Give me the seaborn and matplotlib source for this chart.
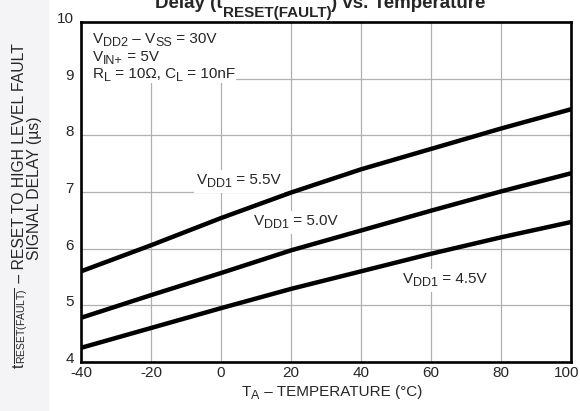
import pandas as pd
import matplotlib.pyplot as plt
import matplotlib.patches as mpatches
import matplotlib.transforms as mtransforms
import seaborn as sns

# Data
temperature = [-40, -20, 0, 20, 40, 60, 80, 100]
delay_55 = [5.60, 6.06, 6.54, 6.99, 7.40, 7.76, 8.12, 8.46]
delay_50 = [4.78, 5.18, 5.57, 5.97, 6.32, 6.67, 7.01, 7.33]
delay_45 = [4.25, 4.60, 4.95, 5.29, 5.60, 5.91, 6.20, 6.47]
series_names = ["5.5V", "5.0V", "4.5V"]
x_ticks = [-40, -20, 0, 20, 40, 60, 80, 100]
y_ticks = [4, 5, 6, 7, 8, 9, 10]

rows = []
for name, vals in zip(series_names, [delay_55, delay_50, delay_45]):
    for t, v in zip(temperature, vals):
        rows.append({"temp": t, "delay": v, "vdd1": name})
df = pd.DataFrame(rows)

sns.set_style("white")
plt.rcParams['font.family'] = ['Liberation Sans', 'DejaVu Sans']
plt.rcParams['mathtext.fontset'] = 'custom'
plt.rcParams['mathtext.rm'] = 'Liberation Sans'
plt.rcParams['mathtext.it'] = 'Liberation Sans:italic'
plt.rcParams['mathtext.bf'] = 'Liberation Sans:bold'
plt.rcParams['axes.unicode_minus'] = False

W, H = 580, 411
fig = plt.figure(figsize=(W / 100, H / 100), dpi=100)
renderer = fig.canvas.get_renderer()


def px(x, y):
    # pixel position measured from top-left -> figure fraction
    return x / W, 1 - y / H


# light grey strip at the left edge
fig.patches.append(mpatches.Rectangle((0, 0), 48 / W, 1, transform=fig.transFigure,
                                      color='#f4f4f6', zorder=-5))
ax = fig.add_axes([81 / W, 1 - 362 / H, 490 / W, 340 / H])

sns.lineplot(data=df, x="temp", y="delay", hue="vdd1", palette=["black"] * 3,
             linewidth=3.2, legend=False, ax=ax, zorder=3)

ax.set_xlim(-40, 100)
ax.set_ylim(4, 10)
ax.set_xticks(x_ticks)
ax.set_yticks(y_ticks)
ax.grid(True, color='#b0b0b0', linewidth=0.9)
ax.tick_params(axis='both', labelsize=11, length=0)
ax.tick_params(axis='x', pad=3)
ax.tick_params(axis='y', pad=5)
for sp in ax.spines.values():
    sp.set_linewidth(1.9)
    sp.set_color('black')
ax.set_xlabel("")
ax.set_ylabel("")
up = mtransforms.ScaledTranslation(0, 4.5 / 100, fig.dpi_scale_trans)
for lab in ax.get_yticklabels():
    lab.set_transform(lab.get_transform() + up)
left = mtransforms.ScaledTranslation(-4 / 100, 0, fig.dpi_scale_trans)
last = ax.get_xticklabels()[-1]
last.set_transform(last.get_transform() + left)


def rich(parts, x, y, transform, size, sub_size, drop, ha='left', rotation=0,
         weight='normal', zorder=5):
    # chain of text pieces; sub pieces are smaller and dropped below the baseline
    texts, widths = [], []
    for s, sub in parts:
        t = fig.text(0, 0, s, fontsize=sub_size if sub else size, rotation=rotation,
                     rotation_mode='anchor', ha='left', va='baseline',
                     fontweight=weight, zorder=zorder)
        ext = t.get_window_extent(renderer)
        texts.append((t, sub))
        widths.append((ext.height if rotation else ext.width) * 72 / fig.dpi)
    total = sum(widths)
    pos = {'left': 0, 'center': -total / 2, 'right': -total}[ha]
    for (t, sub), w in zip(texts, widths):
        d = -drop if sub else 0
        if rotation == 90:
            dx, dy = -d, pos
        else:
            dx, dy = pos, d
        t.set_transform(mtransforms.offset_copy(transform, fig=fig, x=dx, y=dy, units='points'))
        t.set_position((x, y))
        pos += w
    return [t for t, _ in texts]


def white_box(texts, pad=2):
    exts = [t.get_window_extent(renderer) for t in texts]
    bb = mtransforms.Bbox.union(exts)
    fig.patches.append(mpatches.Rectangle((bb.x0 - pad, bb.y0 - pad), bb.width + 2 * pad,
                                          bb.height + 2 * pad, transform=None,
                                          facecolor='white', edgecolor='none', zorder=4))


# title, mostly cut off at the top edge as in the reference
rich([("Delay (t", False), ("RESET(FAULT)", True), (") vs. Temperature", False)],
     *px(155, 7.5), fig.transFigure, 13.5, 11, 6.8, weight='bold')

# axis labels
rich([("T", False), ("A", True), (" – TEMPERATURE (°C)", False)],
     *px(332, 396), fig.transFigure, 11, 9, 2.2, ha='center')
rich([("t", False), (r"$\overline{\mathrm{RESET(FAULT)}}$", True),
      (" – RESET TO HIGH LEVEL FAULT", False)],
     *px(23.5, 368), fig.transFigure, 11.3, 7.5, 1.5, rotation=90)
fig.text(*px(39.5, 188), "SIGNAL DELAY (µs)", fontsize=11.3, rotation=90,
         rotation_mode='anchor', ha='center', va='baseline')

# conditions box (inside the axes, below the spines)
ax.add_patch(mpatches.Rectangle((-39.7, 8.92), 44.0, 1.06, facecolor='white',
                                edgecolor='none', zorder=2.2))
rich([("V", False), ("DD2", True), (" – V", False), ("SS", True), (" = 30V", False)],
     *px(92.7, 43), fig.transFigure, 11, 9, 2.2)
rich([("V", False), ("IN+", True), (" = 5V", False)],
     *px(92.7, 61), fig.transFigure, 11, 9, 2.2)
rich([("R", False), ("L", True), (" = 10Ω, C", False), ("L", True), (" = 10nF", False)],
     *px(92.7, 78), fig.transFigure, 11, 9, 2.2)

# curve labels
label_pos = [(-6.9, 7.14), (9.4, 6.42), (51.9, 5.39)]
for name, (lx, ly) in zip(series_names, label_pos):
    parts = rich([("V", False), ("DD1", True), (" = " + name, False)],
                 lx, ly, ax.transData, 11, 9, 2.2)
    white_box(parts, pad=3)

plt.savefig("out.png", dpi=100)
